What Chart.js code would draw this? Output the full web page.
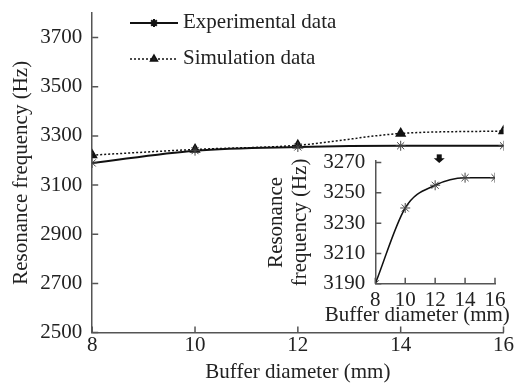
<!DOCTYPE html>
<html>
<head>
<meta charset="utf-8">
<script src="https://cdn.jsdelivr.net/npm/chart.js@4"></script>
<style>
  body { margin: 0; background: #fff; }
  #wrap { position: relative; width: 514px; height: 385px; }
  #main-chart { position: absolute; left: 0; top: 0; }
  #inset-chart { position: absolute; left: 262px; top: 140px; }
</style>
</head>
<body>
<div id="wrap">
  <canvas id="main-chart" width="514" height="385"></canvas>
  <canvas id="inset-chart" width="252" height="190"></canvas>
</div>
<script>
const diameters = [8, 10, 12, 14, 16];
const experimental = [3190, 3240, 3255, 3260, 3260];
const simulation = [3222, 3245, 3262, 3310, 3320];
const mainYTicks = [2500, 2700, 2900, 3100, 3300, 3500, 3700];
const xTicks = [8, 10, 12, 14, 16];
const insetYTicks = [3190, 3210, 3230, 3250, 3270];
const legendLabels = ["Experimental data", "Simulation data"];

const FONT = "'Liberation Serif', 'Times New Roman', serif";
const TEXT = "#222";
const AXIS = "#555";

const pts = (ys) => diameters.map((d, i) => ({ x: d, y: ys[i] }));
const plain = v => String(v);

// short tick marks drawn on the inside of the axes
const insideTicks = {
  id: "insideTicks",
  afterDraw(chart) {
    const { ctx, chartArea, scales } = chart;
    ctx.save();
    ctx.strokeStyle = AXIS;
    ctx.lineWidth = 1.5;
    ctx.beginPath();
    scales.x.ticks.forEach(t => {
      const px = scales.x.getPixelForValue(t.value);
      ctx.moveTo(px, chartArea.bottom);
      ctx.lineTo(px, chartArea.bottom - 6);
    });
    scales.y.ticks.forEach(t => {
      const py = scales.y.getPixelForValue(t.value);
      ctx.moveTo(chartArea.left, py);
      ctx.lineTo(chartArea.left + 6, py);
    });
    ctx.stroke();
    ctx.restore();
  }
};

const mainExtras = {
  id: "mainExtras",
  afterDraw(chart) {
    const { ctx, scales } = chart;
    ctx.save();
    // legend
    const rows = [
      { y: 22, ds: chart.data.datasets[0] },
      { y: 58, ds: chart.data.datasets[1] }
    ];
    rows.forEach((r, i) => {
      ctx.strokeStyle = "#111";
      ctx.lineWidth = r.ds.borderWidth;
      ctx.setLineDash(r.ds.borderDash || []);
      ctx.beginPath();
      ctx.moveTo(130, r.y + 1);
      ctx.lineTo(178, r.y + 1);
      ctx.stroke();
      ctx.setLineDash([]);
      Chart.helpers.drawPoint(ctx, {
        pointStyle: r.ds.pointStyle,
        radius: r.ds.pointRadius - 1,
        borderWidth: 1,
        rotation: 0
      }, 154, r.y + 1);
      ctx.fillStyle = TEXT;
      ctx.font = "21px " + FONT;
      ctx.textBaseline = "middle";
      ctx.fillText(legendLabels[i], 183, r.y);
    });
    // bold down arrow pointing at the inset
    const ax = scales.x.getPixelForValue(14.75);
    const y0 = scales.y.getPixelForValue(3225);
    const y1 = scales.y.getPixelForValue(3190);
    ctx.fillStyle = "#111";
    ctx.fillRect(ax - 2.5, y0, 5, (y1 - y0) * 0.55);
    ctx.beginPath();
    ctx.moveTo(ax - 5.5, y0 + (y1 - y0) * 0.45);
    ctx.lineTo(ax + 5.5, y0 + (y1 - y0) * 0.45);
    ctx.lineTo(ax, y1);
    ctx.closePath();
    ctx.fill();
    ctx.restore();
  }
};

// inset x title is wider than its axis, so it is written here unsqueezed
const insetTitle = {
  id: "insetTitle",
  afterDraw(chart) {
    const { ctx, chartArea } = chart;
    ctx.save();
    ctx.fillStyle = TEXT;
    ctx.font = "21px " + FONT;
    ctx.textAlign = "center";
    ctx.textBaseline = "middle";
    ctx.fillText("Buffer diameter (mm)", chartArea.left + 42, chartArea.bottom + 32);
    ctx.restore();
  }
};

new Chart(document.getElementById("main-chart"), {
  type: "line",
  data: {
    datasets: [{
      label: legendLabels[0],
      data: pts(experimental),
      borderColor: "#111",
      borderWidth: 2,
      pointStyle: "star",
      pointRadius: 5,
      pointBorderColor: "#444",
      pointBorderWidth: 1,
      cubicInterpolationMode: "monotone",
      fill: false
    }, {
      label: legendLabels[1],
      data: pts(simulation),
      borderColor: "#111",
      borderWidth: 1.5,
      borderDash: [2, 2],
      pointStyle: "triangle",
      pointRadius: 5,
      pointBackgroundColor: "#111",
      pointBorderColor: "#111",
      cubicInterpolationMode: "monotone",
      fill: false
    }]
  },
  options: {
    responsive: false,
    animation: false,
    devicePixelRatio: 1,
    layout: { padding: { left: 5, top: 13, right: 10, bottom: 0 } },
    plugins: { legend: { display: false }, tooltip: { enabled: false } },
    scales: {
      x: {
        type: "linear",
        min: 8,
        max: 16,
        afterBuildTicks: s => { s.ticks = xTicks.map(v => ({ value: v })); },
        grid: { display: false, drawTicks: false },
        border: { display: true, color: AXIS, width: 1.5 },
        ticks: { color: TEXT, font: { family: FONT, size: 21 }, padding: 0, maxRotation: 0, callback: plain },
        title: { display: true, text: "Buffer diameter (mm)", color: TEXT,
                 font: { family: FONT, size: 21 }, padding: { top: 2, bottom: 0 } }
      },
      y: {
        min: 2500,
        max: 3800,
        afterBuildTicks: s => { s.ticks = mainYTicks.map(v => ({ value: v })); },
        grid: { display: false, drawTicks: false },
        border: { display: true, color: AXIS, width: 1.5 },
        ticks: { color: TEXT, font: { family: FONT, size: 21, lineHeight: 0.2 }, padding: 10, callback: plain },
        title: { display: true, text: "Resonance frequency (Hz)", color: TEXT,
                 font: { family: FONT, size: 21 }, padding: { top: 4, bottom: -4 } }
      }
    }
  },
  plugins: [insideTicks, mainExtras]
});

new Chart(document.getElementById("inset-chart"), {
  type: "line",
  data: {
    datasets: [{
      label: legendLabels[0],
      data: pts(experimental),
      borderColor: "#111",
      borderWidth: 1.5,
      pointStyle: "star",
      pointRadius: 5,
      pointBorderColor: "#444",
      pointBorderWidth: 1,
      cubicInterpolationMode: "monotone",
      fill: false
    }]
  },
  options: {
    responsive: false,
    animation: false,
    devicePixelRatio: 1,
    layout: { padding: { left: 2, top: 21, right: 19, bottom: 13 } },
    plugins: { legend: { display: false }, tooltip: { enabled: false } },
    scales: {
      x: {
        type: "linear",
        min: 8,
        max: 16,
        afterBuildTicks: s => { s.ticks = xTicks.map(v => ({ value: v })); },
        grid: { display: false, drawTicks: false },
        border: { display: true, color: AXIS, width: 1.5 },
        ticks: { color: TEXT, font: { family: FONT, size: 21 }, padding: 4, maxRotation: 0, autoSkip: false, callback: plain }
      },
      y: {
        min: 3190,
        max: 3271,
        afterBuildTicks: s => { s.ticks = insetYTicks.map(v => ({ value: v })); },
        grid: { display: false, drawTicks: false },
        border: { display: true, color: AXIS, width: 1.5 },
        ticks: { color: TEXT, font: { family: FONT, size: 21, lineHeight: 0.2 }, padding: 10, autoSkip: false, callback: plain },
        title: { display: true, text: ["Resonance", "frequency (Hz)"], color: TEXT,
                 font: { family: FONT, size: 21, lineHeight: 1.15 }, padding: { top: 0, bottom: 1 } }
      }
    }
  },
  plugins: [insideTicks, insetTitle]
});
</script>
</body>
</html>
